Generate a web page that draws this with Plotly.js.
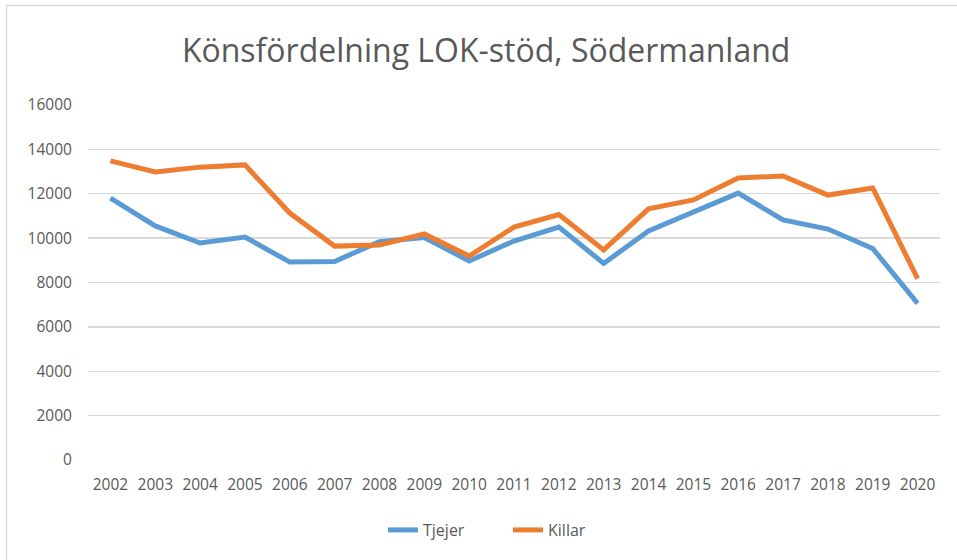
<!DOCTYPE html>
<html>
<head>
<meta charset="utf-8">
<script src="https://cdn.plot.ly/plotly-3.0.1.min.js"></script>
<style>html,body{margin:0;padding:0;background:#fff;}#chart{width:957px;height:560px;}</style>
</head>
<body>
<div id="chart"></div>
<script>
var years = ["2002","2003","2004","2005","2006","2007","2008","2009","2010","2011","2012","2013","2014","2015","2016","2017","2018","2019","2020"];
var tjejer = [11800,10550,9780,10050,8920,8950,9840,10030,8970,9870,10500,8860,10320,11180,12030,10820,10410,9530,7060];
var killar = [13480,12980,13200,13300,11130,9640,9690,10190,9190,10500,11060,9470,11320,11720,12710,12800,11940,12260,8170];
var yTicks = [0,2000,4000,6000,8000,10000,12000,14000,16000];

var L = 88, R = 940, T = 105, B = 460, W = 957, H = 560;
function px(x){ return (x - L) / (R - L); }
function py(y){ return (B - y) / (B - T); }

var traces = [
  {x: years, y: tjejer, name: 'Tjejer', type: 'scatter', mode: 'lines',
   line: {color: '#5B9BD5', width: 5, shape: 'linear'}},
  {x: years, y: killar, name: 'Killar', type: 'scatter', mode: 'lines',
   line: {color: '#ED7D31', width: 5, shape: 'linear'}}
];

var layout = {
  width: W, height: H,
  margin: {l: L, r: W - R, t: T, b: H - B, pad: 0},
  paper_bgcolor: '#fff', plot_bgcolor: '#fff',
  font: {family: 'Open Sans, sans-serif', color: '#595959', size: 15},
  title: {text: 'Könsfördelning LOK-stöd, Södermanland', font: {size: 32, color: '#595959', family: 'Open Sans, sans-serif'},
          x: 0.508, xanchor: 'center', y: 0.91, yanchor: 'middle'},
  xaxis: {type: 'category', range: [-0.5, 18.5], showgrid: false, zeroline: false,
          showline: false, ticks: 'outside', ticklen: 10, tickcolor: 'rgba(0,0,0,0)',
          tickfont: {size: 15.5, color: '#595959'}, fixedrange: true},
  yaxis: {range: [0, 16000], tickvals: yTicks, ticktext: yTicks.map(String),
          showgrid: true, gridcolor: '#D9D9D9', gridwidth: 1.3, zeroline: false, showline: false,
          ticks: 'outside', ticklen: 12, tickcolor: 'rgba(0,0,0,0)',
          tickfont: {size: 15.5, color: '#595959'}, fixedrange: true},
  showlegend: true,
  legend: {orientation: 'h', x: px(383), xanchor: 'left', y: py(530), yanchor: 'middle',
           font: {size: 16, color: '#595959'}, tracegroupgap: 0, entrywidth: 80, entrywidthmode: 'pixels'},
  shapes: [
    {type: 'rect', xref: 'paper', yref: 'paper', x0: px(6.5), x1: px(970), y0: py(580), y1: py(5.5),
     line: {color: '#D9D9D9', width: 1.5}, fillcolor: 'rgba(0,0,0,0)', layer: 'below'}
  ]
};

Plotly.newPlot('chart', traces, layout, {displayModeBar: false, staticPlot: true});
</script>
</body>
</html>
